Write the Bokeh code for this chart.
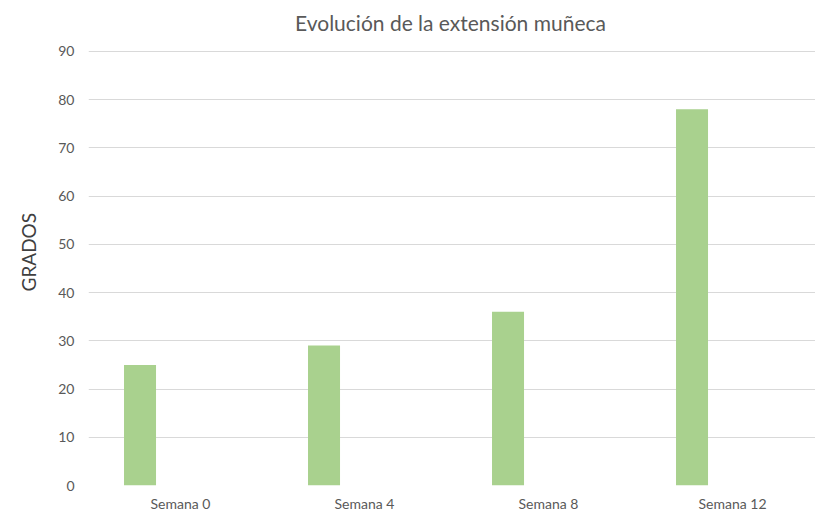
import math
from bokeh.plotting import figure
from bokeh.models import Range1d, FixedTicker, ColumnDataSource, Label, Title
from bokeh.embed import file_html
from bokeh.resources import INLINE

title_text = "Evolución de la extensión muñeca"
y_axis_title = "GRADOS"
categories = ["Semana 0", "Semana 4", "Semana 8", "Semana 12"]
values = [25, 29, 36, 78]
y_ticks = [0, 10, 20, 30, 40, 50, 60, 70, 80, 90]

idx = list(range(len(categories)))
bar_offset = -0.22
bar_width = 0.174
src = ColumnDataSource(dict(x=[i + bar_offset for i in idx], top=values))

# frame spans from the canvas top down to the zero line; the top part holds the title
p = figure(width=815, height=514, output_backend="svg", toolbar_location=None,
           x_range=Range1d(-0.5, -0.5 + 727 / 184), y_range=Range1d(0, 90 + 51 / (435 / 90)),
           min_border_left=88, min_border_right=0, min_border_top=0, min_border_bottom=28)

p.vbar(x="x", top="top", width=bar_width, bottom=0, source=src,
       fill_color="#a9d18e", line_color=None)

p.outline_line_color = None
p.xgrid.grid_line_color = None
p.ygrid.grid_line_color = "#d9d9d9"
p.ygrid.grid_line_width = 1

p.xaxis.ticker = FixedTicker(ticks=idx)
p.xaxis.major_label_overrides = {i: c for i, c in zip(idx, categories)}
p.yaxis.ticker = FixedTicker(ticks=y_ticks)

for ax in (p.xaxis[0], p.yaxis[0]):
    ax.axis_line_color = None
    ax.major_tick_line_color = None
    ax.minor_tick_line_color = None
    ax.major_tick_out = 0
    ax.major_tick_in = 0
    ax.minor_tick_out = 0
    ax.major_label_text_font = "Lato"
    ax.major_label_text_font_size = "14px"
    ax.major_label_text_color = "#595959"

p.xaxis.major_label_standoff = 9
p.yaxis.major_label_standoff = 14

title = Label(x=362, y=463, x_units="screen", y_units="screen", text=title_text,
              text_align="center", text_baseline="middle",
              text_font="Lato", text_font_size="21px", text_color="#595959")
p.add_layout(title)

ytitle = Title(text=y_axis_title, align="left", offset=194, vertical_align="top",
               standoff=28, text_font="Lato", text_font_size="19px",
               text_font_style="normal", text_color="#404040")
p.add_layout(ytitle, "left")

open("out.html", "w").write(file_html(p, INLINE))
